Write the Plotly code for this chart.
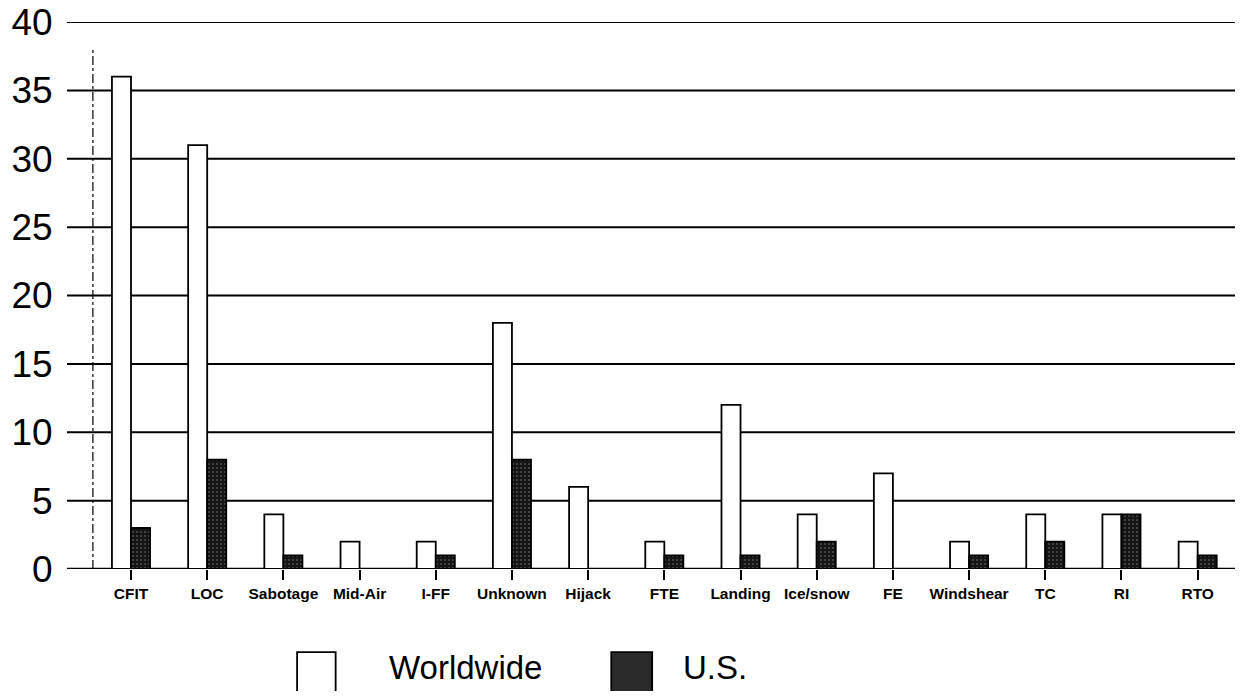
import plotly.graph_objects as go

categories = ["CFIT", "LOC", "Sabotage", "Mid-Air", "I-FF", "Unknown", "Hijack", "FTE",
              "Landing", "Ice/snow", "FE", "Windshear", "TC", "RI", "RTO"]
worldwide = [36, 31, 4, 2, 2, 18, 6, 2, 12, 4, 7, 2, 4, 4, 2]
us = [3, 8, 1, 0, 1, 8, 0, 1, 1, 2, 0, 1, 2, 4, 1]
y_ticks = [0, 5, 10, 15, 20, 25, 30, 35, 40]

FONT = "Liberation Sans, Arial, sans-serif"
x_idx = list(range(len(categories)))

fig = go.Figure()
fig.add_trace(go.Bar(
    x=x_idx, y=worldwide, name="Worldwide",
    marker=dict(color="white", line=dict(color="black", width=1.8)),
    cliponaxis=False,
))
fig.add_trace(go.Bar(
    x=x_idx, y=us, name="U.S.",
    marker=dict(color="#151515", line=dict(color="black", width=1.8),
                pattern=dict(shape=".", fgcolor="#8a8a8a", bgcolor="#151515", size=4, solidity=0.2)),
    cliponaxis=False,
))

fig.update_layout(
    width=1229, height=683,
    margin=dict(l=59, r=2, t=14, b=122),
    paper_bgcolor="white", plot_bgcolor="white",
    barmode="group", bargap=0.5, bargroupgap=0,
    showlegend=False,
    font=dict(family=FONT, color="black"),
)
fig.update_xaxes(
    range=[-0.84, 14.49], automargin=False,
    tickmode="array", tickvals=x_idx, ticktext=categories,
    tickfont=dict(size=15.5, family=FONT, color="black", weight="bold"),
    ticks="outside", ticklen=10, tickwidth=2, tickcolor="black",
    showgrid=False, showline=False, zeroline=False,
)
fig.update_yaxes(
    range=[0, 40], tickvals=y_ticks, automargin=False,
    tickfont=dict(size=37, family=FONT, color="black"),
    ticklabeloverflow="allow",
    showgrid=False, zeroline=False,
    ticks="outside", ticklen=6, tickcolor="rgba(0,0,0,0)", showline=False,
)

# horizontal grid lines spanning the whole plot width
for v in y_ticks:
    fig.add_shape(type="line", xref="paper", yref="y", x0=0, x1=1, y0=v, y1=v,
                  line=dict(color="black", width=2.5 if v == 0 else 2), layer="below")

# dashed vertical axis line
fig.add_shape(type="line", xref="x", yref="y", x0=-0.5, x1=-0.5, y0=0, y1=38,
              line=dict(color="black", width=1.2, dash="dashdot"), layer="below")

# manual legend
fig.add_shape(type="rect", xref="paper", yref="paper", x0=0.197, x1=0.230, y0=-0.26, y1=-0.152,
              line=dict(color="black", width=1.8), fillcolor="white")
fig.add_shape(type="rect", xref="paper", yref="paper", x0=0.466, x1=0.501, y0=-0.26, y1=-0.152,
              line=dict(color="black", width=1.8), fillcolor="#2a2a2a")
fig.add_annotation(xref="paper", yref="paper", x=0.274, y=-0.180, text="Worldwide",
                   showarrow=False, xanchor="left", yanchor="middle",
                   font=dict(size=33, family=FONT, color="black"))
fig.add_annotation(xref="paper", yref="paper", x=0.5255, y=-0.180, text="U.S.",
                   showarrow=False, xanchor="left", yanchor="middle",
                   font=dict(size=33, family=FONT, color="black"))

fig.write_html("out.html")
